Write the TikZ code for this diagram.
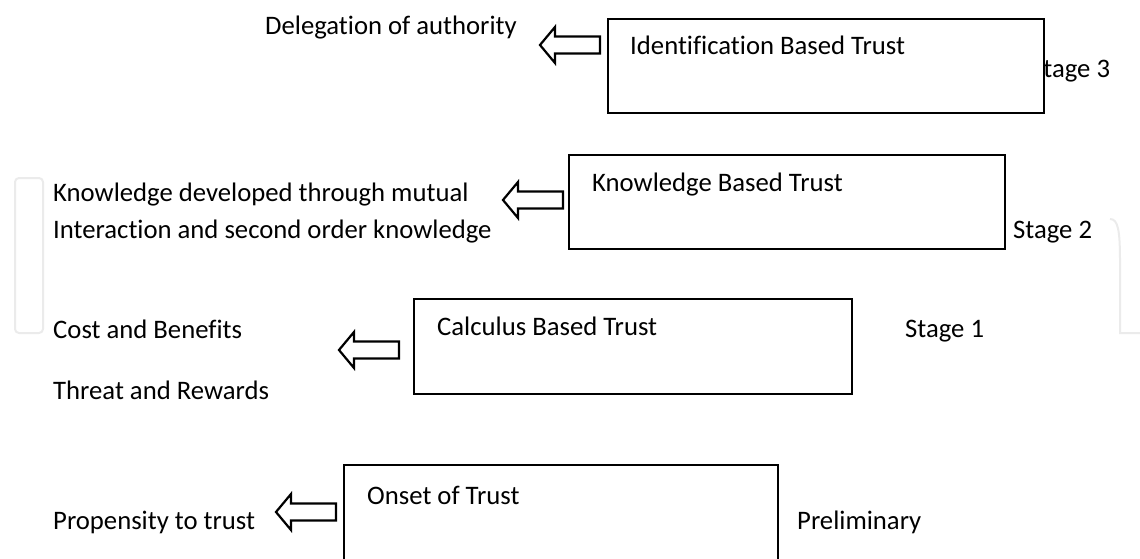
\documentclass[tikz,border=0pt]{standalone}
\usepackage{fontspec}
\setmainfont[Ligatures=NoCommon]{Carlito}
\begin{document}
\begin{tikzpicture}[x=1pt,y=-1pt,
  txt/.style={anchor=base west, inner sep=0pt, font=\fontsize{26.7}{32}\selectfont},
  stagebox/.style={draw, line width=2.2pt, fill=white, rectangle, anchor=north west, inner sep=0pt},
  arrowline/.style={draw, line width=2.2pt, fill=white, line join=miter},
  wmark/.style={draw=black!8, line width=2pt}]
\useasboundingbox (0,0) rectangle (1140,559);
% faint watermark
\draw[wmark, rounded corners=4pt] (15,178) rectangle (43,333);
\draw[wmark] (1110,219) .. controls (1118,219) and (1120,230) .. (1120,262) -- (1120,333) -- (1140,333);
% stage labels (box 1 hides the S of Stage 3)
\node[txt] (s3) at (1031,78) {Stage 3};
\node[txt] (s2) at (1013,238) {Stage 2};
\node[txt] (s1) at (905,337) {Stage 1};
\node[txt] (s0) at (797,529) {Preliminary};
% boxes
\node[stagebox, minimum width=436pt, minimum height=94pt] (b3) at (607,18) {};
\node[stagebox, minimum width=436pt, minimum height=94pt] (b2) at (568,154) {};
\node[stagebox, minimum width=438pt, minimum height=95pt] (b1) at (413,298) {};
\node[stagebox, minimum width=434pt, minimum height=110pt] (b0) at (343,464) {};
% box titles
\node[txt] (t3) at (630,55) {Identification Based Trust};
\node[txt] (t2) at (592,191) {Knowledge Based Trust};
\node[txt] (t1) at (437,335) {Calculus Based Trust};
\node[txt] (t0) at (367,504) {Onset of Trust};
% left texts
\node[txt] (l3) at (265,35) {Delegation of authority};
\node[txt] (l2a) at (53,201) {Knowledge developed through mutual};
\node[txt] (l2b) at (53,238) {Interaction and second order knowledge};
\node[txt] (l1a) at (53,338) {Cost and Benefits};
\node[txt] (l1b) at (53,399) {Threat and Rewards};
\node[txt] (l0) at (53,529) {Propensity to trust};
% block arrows (tail coordinates)
\coordinate (a3) at (600,45);
\coordinate (a2) at (563,200);
\coordinate (a1) at (399,350);
\coordinate (a0) at (336,512);
\foreach \c in {a3,a2,a1,a0}{
  \draw[arrowline] (\c) ++(0,-8.5) -- ++(-45,0) -- ++(0,-9.5) -- ++(-15,18)
     -- ++(15,18) -- ++(0,-9.5) -- ++(45,0) -- cycle;
}
\end{tikzpicture}
\end{document}
